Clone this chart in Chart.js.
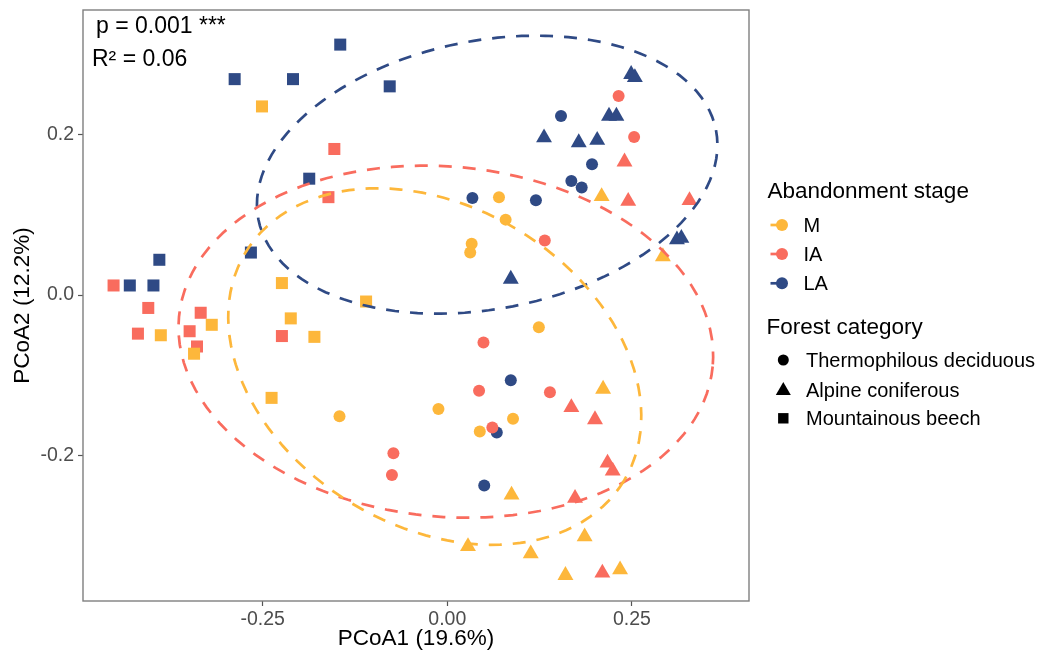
<!DOCTYPE html>
<html>
<head>
<meta charset="utf-8">
<script src="https://cdn.jsdelivr.net/npm/chart.js@4/dist/chart.umd.min.js"></script>
<style>
  html, body { margin: 0; padding: 0; background: #fff; }
  #wrap { position: relative; width: 1038px; height: 657px; font-family: 'Liberation Sans', Arial, sans-serif; color: #000; }
  #wrap canvas { position: absolute; left: 0; top: 0; }
  .txt { position: absolute; line-height: 1; white-space: nowrap; }
  .note { font-size: 23px; }
  .ltitle { font-size: 22.5px; }
  .litem { font-size: 20px; }
</style>
</head>
<body>
<div id="wrap">
  <canvas id="pcoa" width="1038" height="657"></canvas>
  <div class="txt note" style="left:96px;top:13.5px">p = 0.001 ***</div>
  <div class="txt note" style="left:92px;top:47px">R² = 0.06</div>
  <div id="legend"></div>
</div>
<script>
// groups and colours
const stages = ['M', 'IA', 'LA'];
const stageColors = ['#FDB73B', '#F96C5E', '#2F4A85'];
const forestCategories = ['Thermophilous deciduous', 'Alpine coniferous', 'Mountainous beech'];

// PCoA scores [PCoA1, PCoA2]
const mThermo = [[0.070, 0.122], [0.079, 0.094], [0.033, 0.064], [0.031, 0.053], [0.124, -0.040],
  [-0.012, -0.142], [-0.146, -0.151], [0.089, -0.154], [0.044, -0.170]];
const mAlpine = [[0.209, 0.123], [0.292, 0.048], [0.211, -0.117], [0.087, -0.249], [0.186, -0.301],
  [0.028, -0.313], [0.113, -0.322], [0.160, -0.349], [0.234, -0.342]];
const mBeech = [[-0.251, 0.235], [-0.224, 0.015], [-0.110, -0.008], [-0.212, -0.029], [-0.319, -0.037],
  [-0.388, -0.050], [-0.180, -0.052], [-0.343, -0.073], [-0.238, -0.128]];

const iaThermo = [[0.232, 0.248], [0.253, 0.197], [0.132, 0.068], [0.049, -0.059], [0.043, -0.119],
  [0.139, -0.121], [0.061, -0.165], [-0.073, -0.197], [-0.075, -0.224]];
const iaAlpine = [[0.240, 0.166], [0.245, 0.117], [0.328, 0.118], [0.168, -0.140], [0.200, -0.155],
  [0.217, -0.209], [0.224, -0.219], [0.173, -0.253], [0.210, -0.346]];
const iaBeech = [[-0.153, 0.182], [-0.161, 0.122], [-0.452, 0.012], [-0.405, -0.016], [-0.334, -0.022],
  [-0.419, -0.048], [-0.349, -0.045], [-0.224, -0.051], [-0.339, -0.064]];

const laThermo = [[0.154, 0.223], [0.196, 0.163], [0.168, 0.142], [0.182, 0.134], [0.034, 0.121],
  [0.120, 0.118], [0.086, -0.106], [0.067, -0.171], [0.050, -0.237]];
const laAlpine = [[0.249, 0.275], [0.254, 0.271], [0.219, 0.223], [0.229, 0.223], [0.131, 0.196],
  [0.178, 0.190], [0.203, 0.193], [0.311, 0.069], [0.317, 0.071], [0.086, 0.020]];
const laBeech = [[-0.145, 0.312], [-0.288, 0.269], [-0.209, 0.269], [-0.078, 0.260], [-0.187, 0.145],
  [-0.266, 0.053], [-0.390, 0.044], [-0.430, 0.012], [-0.398, 0.012]];

// confidence ellipses per stage (M, IA, LA): centre and two conjugate semi-axes
const ellipseCentres = [[-0.017, -0.089], [-0.002, -0.058], [0.054, 0.150]];
const ellipseMajor = [[0.2565, -0.1418], [0.3614, -0.0309], [0.3099, 0.0555]];
const ellipseMinor = [[-0.1116, -0.1708], [-0.0219, -0.2171], [0.0347, -0.1640]];

const xTicks = [-0.25, 0, 0.25];
const xTickLabels = ['-0.25', '0.00', '0.25'];
const yTicks = [-0.2, 0, 0.2];
const yTickLabels = ['-0.2', '0.0', '0.2'];

const shapeStyles = ['circle', 'triangle', 'rect'];
const shapeRadius = [6, 9.2, 8.5];

const groups = [
  [mThermo, 0, 0], [mAlpine, 0, 1], [mBeech, 0, 2],
  [iaThermo, 1, 0], [iaAlpine, 1, 1], [iaBeech, 1, 2],
  [laThermo, 2, 0], [laAlpine, 2, 1], [laBeech, 2, 2]
];

function ellipsePoints(k) {
  const [cx, cy] = ellipseCentres[k];
  const [ax, ay] = ellipseMajor[k];
  const [bx, by] = ellipseMinor[k];
  const pts = [];
  for (let d = 0; d <= 360; d += 3) {
    const t = d * Math.PI / 180;
    pts.push({ x: cx + ax * Math.cos(t) + bx * Math.sin(t), y: cy + ay * Math.cos(t) + by * Math.sin(t) });
  }
  return pts;
}

const datasets = [];
stages.forEach((s, k) => {
  datasets.push({
    label: s + ' ellipse',
    data: ellipsePoints(k),
    showLine: true,
    borderColor: stageColors[k],
    borderWidth: 2.7,
    borderDash: [13, 11],
    pointRadius: 0,
    pointHoverRadius: 0,
    tension: 0,
    fill: false
  });
});
groups.forEach(([pts, s, f]) => {
  datasets.push({
    label: stages[s] + ' / ' + forestCategories[f],
    data: pts.map(p => ({ x: p[0], y: p[1] })),
    pointStyle: shapeStyles[f],
    pointRadius: shapeRadius[f],
    pointHoverRadius: shapeRadius[f],
    pointBorderWidth: 0,
    backgroundColor: stageColors[s],
    borderColor: stageColors[s]
  });
});

// panel frame like theme_bw
const panelBorder = {
  id: 'panelBorder',
  afterDatasetsDraw(chart) {
    const { ctx, chartArea: a } = chart;
    ctx.save();
    ctx.strokeStyle = '#7f7f7f';
    ctx.lineWidth = 1.4;
    ctx.strokeRect(a.left, a.top, a.right - a.left, a.bottom - a.top);
    ctx.restore();
  }
};

// legend keys next to the html labels
const legendKeys = {
  id: 'legendKeys',
  afterDraw(chart) {
    const ctx = chart.ctx;
    ctx.save();
    const stageY = [225, 254, 283.3];
    stages.forEach((s, k) => {
      ctx.strokeStyle = stageColors[k];
      ctx.fillStyle = stageColors[k];
      ctx.lineWidth = 2.7;
      ctx.beginPath();
      ctx.moveTo(770.5, stageY[k]);
      ctx.lineTo(782, stageY[k]);
      ctx.stroke();
      ctx.beginPath();
      ctx.arc(782, stageY[k], 6, 0, Math.PI * 2);
      ctx.fill();
    });
    const forestY = [360, 389.5, 418.3];
    const cx = 783.3;
    ctx.fillStyle = '#000';
    ctx.beginPath();
    ctx.arc(cx, forestY[0], 5.5, 0, Math.PI * 2);
    ctx.fill();
    ctx.beginPath();
    ctx.moveTo(cx, forestY[1] - 7.5);
    ctx.lineTo(cx + 7.5, forestY[1] + 5.5);
    ctx.lineTo(cx - 7.5, forestY[1] + 5.5);
    ctx.closePath();
    ctx.fill();
    ctx.fillRect(cx - 5.2, forestY[2] - 5.2, 10.4, 10.4);
    ctx.restore();
  }
};

// legend text
const legend = document.getElementById('legend');
function addText(cls, text, left, top) {
  const d = document.createElement('div');
  d.className = 'txt ' + cls;
  d.style.left = left + 'px';
  d.style.top = top + 'px';
  d.textContent = text;
  legend.appendChild(d);
}
addText('ltitle', 'Abandonment stage', 767.5, 179.5);
stages.forEach((s, k) => addText('litem', s, 803.5, [215, 244, 273.3][k]));
addText('ltitle', 'Forest category', 766.5, 316.3);
forestCategories.forEach((f, k) => addText('litem', f, 806, [350, 379.5, 408.3][k]));

Chart.defaults.font.family = "'Liberation Sans', Arial, sans-serif";

new Chart(document.getElementById('pcoa'), {
  type: 'scatter',
  data: { datasets: datasets },
  options: {
    responsive: false,
    animation: false,
    devicePixelRatio: 1,
    layout: { padding: { left: 0, right: 289, top: 10, bottom: 0 } },
    plugins: { legend: { display: false }, tooltip: { enabled: false } },
    scales: {
      x: {
        type: 'linear',
        min: -0.4934,
        max: 0.4086,
        afterBuildTicks: s => { s.ticks = xTicks.map(v => ({ value: v })); },
        afterFit: s => { s.height = 56; s.paddingLeft = 0; s.paddingRight = 0; },
        ticks: {
          callback: v => xTickLabels[xTicks.indexOf(v)],
          font: { size: 19.5 },
          color: '#4D4D4D',
          padding: 2,
          maxRotation: 0
        },
        grid: { drawOnChartArea: false, drawTicks: true, tickLength: 5, tickColor: '#555', tickWidth: 1.2 },
        border: { display: false },
        title: { display: true, text: 'PCoA1 (19.6%)', font: { size: 22.5 }, color: '#000', padding: { top: 0, bottom: 5 } }
      },
      y: {
        type: 'linear',
        min: -0.381,
        max: 0.3551,
        afterBuildTicks: s => { s.ticks = yTicks.map(v => ({ value: v })); },
        afterFit: s => { s.width = 83; s.paddingTop = 0; s.paddingBottom = 0; },
        ticks: {
          callback: v => yTickLabels[yTicks.indexOf(v)],
          font: { size: 19.5 },
          color: '#4D4D4D',
          padding: 4
        },
        grid: { drawOnChartArea: false, drawTicks: true, tickLength: 5, tickColor: '#555', tickWidth: 1.2 },
        border: { display: false },
        title: { display: true, text: 'PCoA2 (12.2%)', font: { size: 22.5 }, color: '#000', padding: { top: 9, bottom: 0 } }
      }
    }
  },
  plugins: [panelBorder, legendKeys]
});
</script>
</body>
</html>
